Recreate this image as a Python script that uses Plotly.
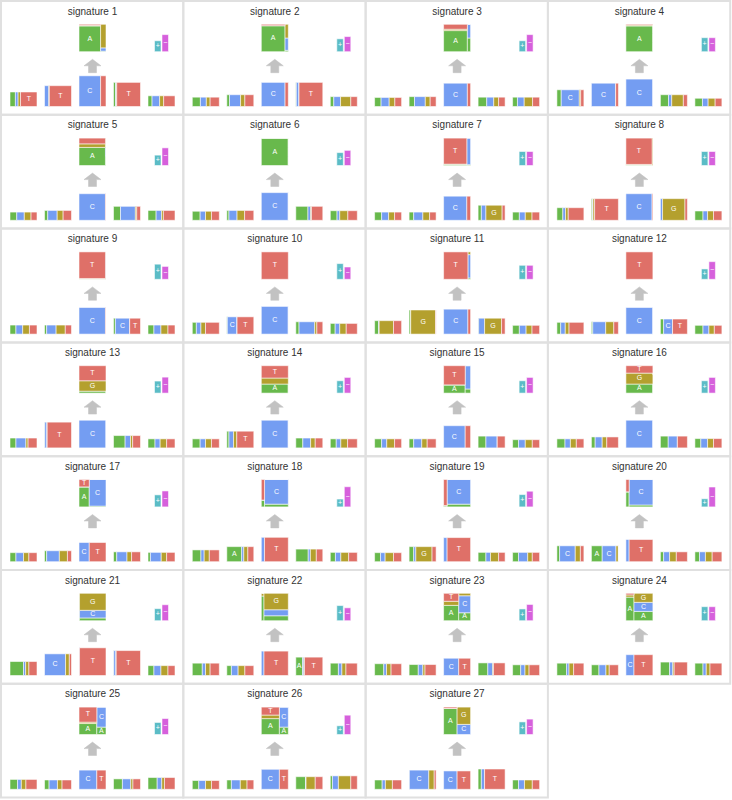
import plotly.graph_objects as go

BASES = ["A", "C", "G", "T"]
titles = [f"signature {i}" for i in range(1, 28)]

# flanking base probabilities (A, C, G, T) at positions -2, -1, +1, +2
pos_m2 = [[0.20,0.10,0.09,0.61],[0.30,0.22,0.14,0.34],[0.24,0.30,0.21,0.25],[0.16,0.67,0.05,0.12],
          [0.25,0.28,0.25,0.22],[0.29,0.20,0.22,0.29],[0.26,0.26,0.22,0.26],[0.22,0.10,0.10,0.58],
          [0.22,0.25,0.25,0.28],[0.15,0.17,0.17,0.51],[0.15,0.02,0.53,0.30],[0.14,0.17,0.14,0.55],
          [0.22,0.37,0.08,0.33],[0.29,0.20,0.22,0.29],[0.26,0.19,0.29,0.26],[0.30,0.20,0.22,0.28],
          [0.22,0.28,0.20,0.30],[0.32,0.12,0.19,0.37],[0.22,0.17,0.31,0.30],[0.10,0.58,0.19,0.13],
          [0.50,0.08,0.12,0.30],[0.37,0.12,0.17,0.34],[0.34,0.10,0.17,0.39],[0.36,0.09,0.17,0.38],
          [0.28,0.14,0.17,0.41],[0.24,0.25,0.22,0.29],[0.28,0.12,0.26,0.34]]
pos_m1 = [[0.00,0.16,0.02,0.82],[0.10,0.41,0.16,0.33],[0.20,0.40,0.18,0.22],[0.00,0.90,0.00,0.10],
          [0.12,0.35,0.22,0.31],[0.08,0.30,0.28,0.34],[0.17,0.34,0.25,0.24],[0.04,0.02,0.06,0.88],
          [0.08,0.35,0.34,0.23],[0.02,0.36,0.00,0.62],[0.06,0.00,0.92,0.02],[0.05,0.48,0.30,0.17],
          [0.01,0.08,0.01,0.90],[0.08,0.17,0.12,0.63],[0.17,0.30,0.20,0.33],[0.14,0.26,0.17,0.43],
          [0.08,0.47,0.30,0.15],[0.55,0.08,0.15,0.22],[0.17,0.08,0.60,0.15],[0.40,0.51,0.09,0.00],
          [0.00,0.78,0.14,0.08],[0.17,0.25,0.25,0.33],[0.34,0.17,0.08,0.41],[0.28,0.26,0.12,0.34],
          [0.17,0.31,0.17,0.35],[0.17,0.33,0.25,0.25],[0.01,0.72,0.20,0.07]]
pos_p1 = [[0.08,0.02,0.02,0.88],[0.02,0.10,0.00,0.88],[0.32,0.26,0.18,0.24],[0.30,0.12,0.43,0.15],
          [0.26,0.55,0.05,0.14],[0.45,0.10,0.03,0.42],[0.12,0.17,0.60,0.11],[0.00,0.08,0.83,0.09],
          [0.07,0.53,0.00,0.40],[0.12,0.58,0.08,0.22],[0.02,0.22,0.63,0.13],[0.12,0.33,0.00,0.55],
          [0.43,0.20,0.08,0.29],[0.26,0.29,0.17,0.28],[0.29,0.42,0.00,0.29],[0.29,0.34,0.00,0.37],
          [0.12,0.38,0.17,0.33],[0.46,0.08,0.22,0.24],[0.29,0.17,0.30,0.24],[0.12,0.22,0.25,0.41],
          [0.01,0.08,0.01,0.90],[0.25,0.05,0.02,0.68],[0.36,0.18,0.03,0.43],[0.34,0.12,0.05,0.49],
          [0.33,0.31,0.08,0.28],[0.36,0.02,0.34,0.28],[0.12,0.12,0.00,0.76]]
pos_p2 = [[0.15,0.28,0.15,0.42],[0.13,0.25,0.38,0.24],[0.18,0.25,0.31,0.26],[0.28,0.21,0.26,0.25],
          [0.30,0.20,0.07,0.43],[0.25,0.10,0.30,0.35],[0.25,0.22,0.25,0.28],[0.30,0.17,0.22,0.31],
          [0.22,0.26,0.26,0.26],[0.18,0.17,0.24,0.41],[0.25,0.25,0.22,0.28],[0.30,0.22,0.20,0.28],
          [0.26,0.19,0.24,0.31],[0.22,0.17,0.25,0.36],[0.22,0.25,0.26,0.27],[0.22,0.25,0.22,0.31],
          [0.09,0.40,0.20,0.31],[0.19,0.20,0.29,0.32],[0.22,0.34,0.17,0.27],[0.17,0.22,0.25,0.36],
          [0.22,0.26,0.26,0.26],[0.30,0.13,0.15,0.42],[0.30,0.16,0.15,0.39],[0.30,0.12,0.14,0.44],
          [0.34,0.17,0.10,0.39],[0.08,0.22,0.46,0.24],[0.22,0.22,0.29,0.27]]

# relative box heights (information), in units of the substitution box height
ic_m2 = [0.53,0.34,0.33,0.61,0.30,0.33,0.30,0.46,0.33,0.43,0.49,0.43,0.36,0.33,0.33,0.33,0.33,0.43,0.33,0.58,0.51,0.45,0.43,0.45,0.36,0.32,0.34]
ic_m1 = [0.76,0.43,0.36,0.85,0.36,0.36,0.30,0.79,0.33,0.63,0.88,0.45,0.94,0.61,0.33,0.40,0.40,0.55,0.55,0.58,0.79,0.36,0.40,0.39,0.34,0.34,0.70]
ic_c = [1.12,0.88,0.85,1.00,0.97,1.01,0.88,0.97,0.97,1.01,0.91,0.97,1.01,1.01,0.81,1.01,0.70,0.89,0.88,0.81,1.01,0.89,0.63,0.76,0.70,0.73,0.67]
ic_p1 = [0.88,0.88,0.34,0.43,0.51,0.51,0.55,0.79,0.58,0.45,0.58,0.55,0.45,0.36,0.43,0.43,0.36,0.46,0.34,0.36,0.91,0.67,0.46,0.49,0.38,0.46,0.74]
ic_p2 = [0.39,0.36,0.34,0.30,0.36,0.35,0.30,0.34,0.33,0.39,0.32,0.32,0.33,0.33,0.30,0.34,0.34,0.34,0.34,0.36,0.36,0.45,0.39,0.45,0.43,0.49,0.34]

# reference base: probability of C (rest is T)
ref_C = [0.80,0.88,0.88,1.00,0.98,1.00,0.86,0.97,0.98,1.00,0.90,1.00,1.00,1.00,0.80,1.00,0.38,0.12,0.13,0.12,0.02,0.10,0.56,0.30,0.66,0.67,0.50]

# alternative base given C (A, G, T) and given T (A, C, G)
alt_C = [[0.94,0.02,0.04],[0.95,0.00,0.05],[0.77,0.05,0.18],[0.94,0.03,0.03],[0.66,0.13,0.21],[1.00,0.00,0.00],
         [0.05,0.00,0.95],[0.02,0.02,0.96],[0.01,0.02,0.97],[0.00,0.00,1.00],[0.00,0.00,1.00],[0.00,0.00,1.00],
         [0.07,0.38,0.55],[0.33,0.22,0.45],[0.30,0.00,0.70],[0.33,0.40,0.27],[0.73,0.00,0.27],[0.25,0.00,0.75],
         [0.03,0.02,0.95],[0.55,0.00,0.45],[0.90,0.10,0.00],[0.90,0.10,0.00],[0.56,0.15,0.29],[0.86,0.08,0.06],
         [0.40,0.05,0.55],[0.58,0.13,0.29],[0.95,0.00,0.05]]
alt_T = [[0.02,0.12,0.86],[0.05,0.45,0.50],[0.50,0.50,0.00],[0.34,0.33,0.33],[0.34,0.33,0.33],[0.34,0.33,0.33],
         [0.03,0.97,0.00],[0.00,0.00,1.00],[0.10,0.80,0.10],[0.34,0.33,0.33],[0.05,0.85,0.10],[0.34,0.33,0.33],
         [0.34,0.33,0.33],[0.34,0.33,0.33],[0.15,0.85,0.00],[0.34,0.33,0.33],[0.03,0.97,0.00],[0.10,0.90,0.00],
         [0.10,0.90,0.00],[0.07,0.93,0.00],[0.10,0.28,0.62],[0.18,0.22,0.60],[0.29,0.62,0.09],[0.34,0.33,0.33],
         [0.27,0.73,0.00],[0.27,0.73,0.00],[0.00,0.37,0.63]]

# transcription strand: probability of "+"
strand_plus = [0.39,0.46,0.39,0.50,0.37,0.46,0.50,0.50,0.54,0.56,0.50,0.37,0.43,0.44,0.44,0.44,0.43,0.28,0.44,0.29,0.43,0.54,0.42,0.50,0.43,0.31,0.45]

# ---------------------------------------------------------------- styling / geometry
COLORS = {"A": "#68b94c", "C": "#749df2", "G": "#b4a02e", "T": "#df7068", "+": "#5bbcc6", "-": "#d660dc"}
NCOL = 4
PX, PY = 182.3, 113.8
OX, OY = 1.0, 1.0
BOXW = 27.0
UNIT = 27.4
CENTERS = [22.5, 57.0, 91.5, 126.0, 160.5]
BASE_Y = 105.5
TOP_Y0, TOP_Y1 = 23.3, 50.7
STRAND_H = 28.0

segs = {k: dict(x=[], w=[], base=[], h=[]) for k in COLORS}
lab_x, lab_y, lab_t = [], [], []
arrow_x, arrow_y = [], []
shapes = []
title_x, title_y = [], []


def add_seg(key, xl, xr, ybot, ytop, label=None):
    segs[key]["x"].append((xl + xr) / 2)
    segs[key]["w"].append(xr - xl)
    segs[key]["base"].append(ybot)
    segs[key]["h"].append(ytop - ybot)
    if label:
        lab_x.append((xl + xr) / 2)
        lab_y.append((ybot + ytop) / 2)
        lab_t.append(label)


def norm(v):
    s = float(sum(v))
    return [a / s for a in v] if s > 0 else v


n = len(titles)
for k in range(n):
    r, c = divmod(k, NCOL)
    x0 = OX + c * PX
    y0 = OY + r * PY
    shapes.append(dict(type="rect", xref="x", yref="y", x0=x0, x1=x0 + PX, y0=y0, y1=y0 + PY,
                       line=dict(color="#e0e0e0", width=2), fillcolor="rgba(0,0,0,0)", layer="below"))
    title_x.append(x0 + 91.5)
    title_y.append(y0 + 11.0)

    flanks = [(pos_m2[k], ic_m2[k], 0), (pos_m1[k], ic_m1[k], 1), (pos_p1[k], ic_p1[k], 3), (pos_p2[k], ic_p2[k], 4)]
    ybot = y0 + BASE_Y
    for probs, ic, i in flanks:
        h = ic * UNIT
        xl = x0 + CENTERS[i] - BOXW / 2
        for b, p in zip(BASES, norm(probs)):
            w = p * BOXW
            lbl = b if (h >= 14.3 and w >= 6.5) else None
            add_seg(b, xl, xl + w, ybot, ybot - h, lbl)
            xl += w

    # central (reference) base
    h = ic_c[k] * UNIT
    xl = x0 + CENTERS[2] - BOXW / 2
    wc = ref_C[k] * BOXW
    wt = BOXW - wc
    add_seg("C", xl, xl + wc, ybot, ybot - h, "C" if (h >= 14.3 and wc >= 6.5) else None)
    add_seg("T", xl + wc, xl + BOXW, ybot, ybot - h, "T" if (h >= 14.3 and wt >= 6.5) else None)

    # substitution (alternative) box
    th = TOP_Y1 - TOP_Y0
    for colx0, colw, alts, probs in [(xl, wc, ["A", "G", "T"], alt_C[k]), (xl + wc, wt, ["A", "C", "G"], alt_T[k])]:
        yb = y0 + TOP_Y1
        for b, p in zip(alts, norm(probs)):
            sh = p * th
            lbl = b if (colw >= 5.5 and sh >= 6.5) else None
            add_seg(b, colx0, colx0 + colw, yb, yb - sh, lbl)
            yb -= sh

    # arrow
    ax = x0 + CENTERS[2]
    pts = [(ax, 58.3), (ax + 8.5, 64.8), (ax + 4, 64.8), (ax + 4, 71.7), (ax - 4, 71.7), (ax - 4, 64.8), (ax - 8.5, 64.8), (ax, 58.3)]
    arrow_x += [p[0] for p in pts] + [None]
    arrow_y += [y0 + p[1] for p in pts] + [None]

    # strand
    yb = y0 + TOP_Y1
    hp = strand_plus[k] * STRAND_H
    hm = (1 - strand_plus[k]) * STRAND_H
    add_seg("+", x0 + 153.5, x0 + 160.0, yb, yb - hp, "+")
    add_seg("-", x0 + 161.0, x0 + 167.5, yb, yb - hm, "\u2212")

fig = go.Figure()
fig.add_trace(go.Scatter(x=arrow_x, y=arrow_y, mode="lines", fill="toself", fillcolor="#c2c2c2",
                         line=dict(color="#c2c2c2", width=0.5), hoverinfo="skip"))
for key, d in segs.items():
    fig.add_trace(go.Bar(x=d["x"], y=d["h"], base=d["base"], width=d["w"],
                         marker=dict(color=COLORS[key], line=dict(color="rgba(255,255,255,0.55)", width=1)),
                         hoverinfo="skip", name=key))
fig.add_trace(go.Scatter(x=lab_x, y=lab_y, text=lab_t, mode="text",
                         textfont=dict(color="white", size=7, family="Liberation Sans, Arial, sans-serif"),
                         hoverinfo="skip"))
fig.add_trace(go.Scatter(x=title_x, y=title_y, text=titles, mode="text",
                         textfont=dict(color="#333333", size=10, family="Liberation Sans, Arial, sans-serif"),
                         hoverinfo="skip"))

fig.update_layout(width=732, height=800, margin=dict(l=0, r=0, t=0, b=0),
                  paper_bgcolor="white", plot_bgcolor="white", showlegend=False,
                  barmode="overlay", shapes=shapes,
                  xaxis=dict(range=[0, 732], visible=False, fixedrange=True),
                  yaxis=dict(range=[800, 0], visible=False, fixedrange=True))
fig.write_html("out.html", config={"displayModeBar": False},
               post_script="document.body.style.margin='0px';document.body.style.overflow='hidden';")
